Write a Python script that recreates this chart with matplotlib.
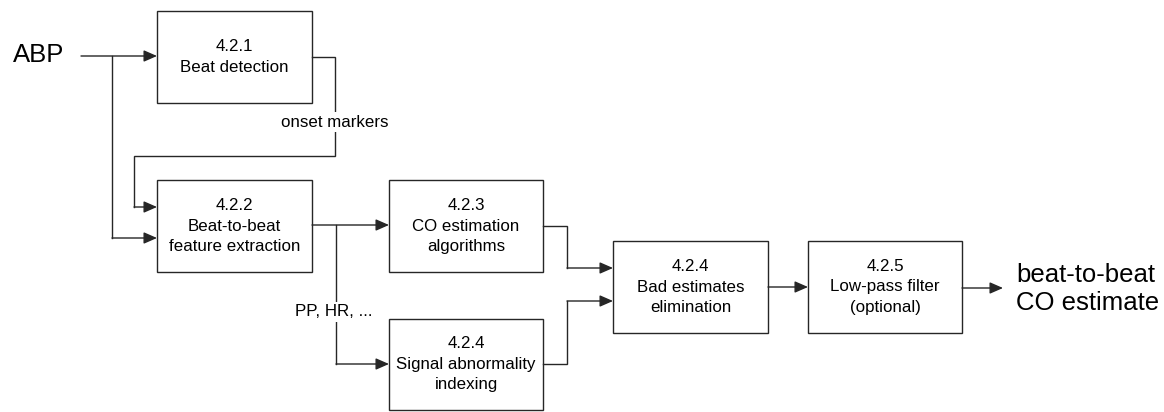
import matplotlib
matplotlib.use("Agg")
from matplotlib import pyplot as plt
from matplotlib.patches import Rectangle

plt.rcParams['font.family'] = ['Liberation Sans', 'DejaVu Sans']

# block texts (section number, description lines)
box_names = ["bd", "fe", "co", "sa", "be", "lp"]
box_lines = [
    ["4.2.1", "Beat detection"],
    ["4.2.2", "Beat-to-beat", "feature extraction"],
    ["4.2.3", "CO estimation", "algorithms"],
    ["4.2.4", "Signal abnormality", "indexing"],
    ["4.2.4", "Bad estimates", "elimination"],
    ["4.2.5", "Low-pass filter", "(optional)"],
]
input_label = "ABP"
output_lines = ["beat-to-beat", "CO estimate"]
edge_labels = ["onset markers", "PP, HR, ..."]

# layout in pixel coordinates (x0, y0, x1, y1)
layout = {
    "bd": (157, 11, 312, 103),
    "fe": (157, 180, 312, 272),
    "co": (389, 180, 543, 272),
    "sa": (389, 319, 543, 410),
    "be": (613, 241, 768, 333),
    "lp": (808, 241, 962, 333),
}

LC = "#262626"
LW = 1.0
FS = 12.2
BIG = 18.5


def wire(ax, pts, arrow=True):
    xs = [p[0] for p in pts]
    ys = [p[1] for p in pts]
    if arrow:
        ax.plot(xs[:-1], ys[:-1], color=LC, lw=LW, solid_joinstyle='miter')
        ax.annotate("", xy=pts[-1], xytext=pts[-2],
                    arrowprops=dict(arrowstyle="-|>,head_length=0.8,head_width=0.35",
                                    color=LC, lw=LW, shrinkA=0, shrinkB=0,
                                    mutation_scale=10))
    else:
        ax.plot(xs, ys, color=LC, lw=LW, solid_joinstyle='miter')


def main():
    fig = plt.figure(figsize=(11.64, 4.12), dpi=100)
    ax = fig.add_axes([0, 0, 1, 1])
    ax.set_xlim(0, 1164)
    ax.set_ylim(412, 0)
    ax.axis("off")

    # boxes
    for name, lines in zip(box_names, box_lines):
        x0, y0, x1, y1 = layout[name]
        ax.add_patch(Rectangle((x0, y0), x1 - x0, y1 - y0, fill=False,
                               edgecolor=LC, lw=LW))
        cx = (x0 + x1) / 2
        cy = (y0 + y1) / 2
        pitch = 20.5
        n = len(lines)
        for i, t in enumerate(lines):
            ax.text(cx, cy + (i - (n - 1) / 2) * pitch, t, ha="center",
                    va="center", fontsize=FS, color="black")

    # input
    ax.text(13, 55, input_label, ha="left", va="center", fontsize=BIG)
    wire(ax, [(81, 56), (157, 56)])
    wire(ax, [(112, 56), (112, 238), (157, 238)])

    # beat detection -> feature extraction
    wire(ax, [(312, 57), (335, 57), (335, 156), (134, 156), (134, 207), (157, 207)])
    ax.text(335, 122, edge_labels[0], ha="center", va="center", fontsize=FS,
            bbox=dict(facecolor="white", edgecolor="none", pad=1.5))

    # feature extraction -> CO estimation / abnormality
    wire(ax, [(312, 225), (389, 225)])
    wire(ax, [(336, 225), (336, 364), (389, 364)])
    ax.text(334, 312, edge_labels[1], ha="center", va="center", fontsize=FS,
            bbox=dict(facecolor="white", edgecolor="none", pad=1.5))

    # into bad estimates elimination
    wire(ax, [(543, 226), (567, 226), (567, 268), (613, 268)])
    wire(ax, [(543, 364), (567, 364), (567, 301), (613, 301)])

    # elimination -> filter -> output
    wire(ax, [(768, 287), (808, 287)])
    wire(ax, [(962, 288), (1003, 288)])
    for i, t in enumerate(output_lines):
        ax.text(1016, 275 + i * 28, t, ha="left", va="center", fontsize=BIG)

    fig.savefig("out.png", dpi=100)
    plt.close(fig)


if __name__ == "__main__":
    main()
